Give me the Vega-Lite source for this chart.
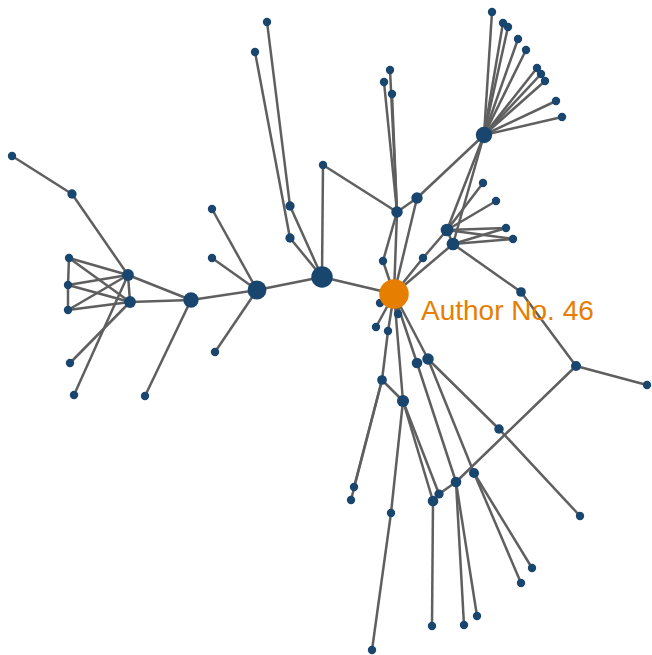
{
  "$schema": "https://vega.github.io/schema/vega-lite/v6.json",
  "width": 652,
  "height": 655,
  "autosize": {"type": "fit", "contains": "padding"},
  "padding": 0,
  "background": "white",
  "config": {"view": {"stroke": null}},
  "datasets": {
    "nodes": [
      {"id":"a1","x":12,"y":156,"c":0,"role":"other"},
      {"id":"a2","x":72,"y":194,"c":0.02,"role":"other"},
      {"id":"k1","x":69,"y":258,"c":0,"role":"other"},
      {"id":"k2","x":68,"y":285,"c":0,"role":"other"},
      {"id":"k3","x":68,"y":310,"c":0,"role":"other"},
      {"id":"h1","x":128,"y":275,"c":0.087,"role":"other"},
      {"id":"h2","x":130,"y":302,"c":0.087,"role":"other"},
      {"id":"l1","x":70,"y":363,"c":0,"role":"other"},
      {"id":"l2","x":74,"y":395,"c":0,"role":"other"},
      {"id":"b","x":191,"y":300,"c":0.206,"role":"other"},
      {"id":"l3","x":145,"y":396,"c":0,"role":"other"},
      {"id":"c","x":257,"y":290,"c":0.357,"role":"other"},
      {"id":"c1","x":212,"y":209,"c":0,"role":"other"},
      {"id":"c2","x":212,"y":258,"c":0,"role":"other"},
      {"id":"c3","x":215,"y":352,"c":0,"role":"other"},
      {"id":"d","x":322,"y":277,"c":0.49,"role":"other"},
      {"id":"d1","x":290,"y":206,"c":0.02,"role":"other"},
      {"id":"d2","x":290,"y":238,"c":0.02,"role":"other"},
      {"id":"d3","x":323,"y":165,"c":0,"role":"other"},
      {"id":"t1","x":267,"y":22,"c":0,"role":"other"},
      {"id":"t2","x":255,"y":52,"c":0,"role":"other"},
      {"id":"e","x":397,"y":212,"c":0.077,"role":"other"},
      {"id":"e1","x":390,"y":70,"c":0,"role":"other"},
      {"id":"e2","x":384,"y":82,"c":0,"role":"other"},
      {"id":"e3","x":392,"y":94,"c":0,"role":"other"},
      {"id":"f","x":417,"y":198,"c":0.074,"role":"other"},
      {"id":"g","x":484,"y":135,"c":0.25,"role":"other"},
      {"id":"g1","x":492,"y":12,"c":0,"role":"other"},
      {"id":"g2","x":503,"y":23,"c":0,"role":"other"},
      {"id":"g3","x":508,"y":27,"c":0,"role":"other"},
      {"id":"g4","x":518,"y":39,"c":0,"role":"other"},
      {"id":"g5","x":526,"y":50,"c":0,"role":"other"},
      {"id":"g6","x":537,"y":68,"c":0,"role":"other"},
      {"id":"g7","x":541,"y":74,"c":0,"role":"other"},
      {"id":"g8","x":545,"y":81,"c":0,"role":"other"},
      {"id":"g9","x":556,"y":101,"c":0,"role":"other"},
      {"id":"g10","x":562,"y":117,"c":0,"role":"other"},
      {"id":"i1","x":447,"y":230,"c":0.114,"role":"other"},
      {"id":"i2","x":453,"y":244,"c":0.114,"role":"other"},
      {"id":"i3","x":483,"y":183,"c":0,"role":"other"},
      {"id":"i4","x":496,"y":201,"c":0,"role":"other"},
      {"id":"i5","x":506,"y":228,"c":0,"role":"other"},
      {"id":"i6","x":513,"y":239,"c":0,"role":"other"},
      {"id":"s1","x":383,"y":261,"c":0,"role":"other"},
      {"id":"s2","x":423,"y":258,"c":0,"role":"other"},
      {"id":"p1","x":521,"y":292,"c":0.03,"role":"other"},
      {"id":"p2","x":576,"y":366,"c":0.04,"role":"other"},
      {"id":"p3","x":647,"y":385,"c":0,"role":"other"},
      {"id":"o1","x":380,"y":303,"c":0,"role":"other"},
      {"id":"o2","x":376,"y":327,"c":0,"role":"other"},
      {"id":"o3","x":388,"y":331,"c":0,"role":"other"},
      {"id":"o4","x":398,"y":314,"c":0,"role":"other"},
      {"id":"m1","x":417,"y":363,"c":0.053,"role":"other"},
      {"id":"m2","x":428,"y":359,"c":0.077,"role":"other"},
      {"id":"q","x":382,"y":380,"c":0.03,"role":"other"},
      {"id":"r","x":403,"y":401,"c":0.097,"role":"other"},
      {"id":"q1","x":354,"y":487,"c":0,"role":"other"},
      {"id":"q2","x":351,"y":500,"c":0,"role":"other"},
      {"id":"r1","x":391,"y":513,"c":0,"role":"other"},
      {"id":"r2","x":372,"y":650,"c":0,"role":"other"},
      {"id":"r3","x":433,"y":501,"c":0.053,"role":"other"},
      {"id":"r4","x":439,"y":494,"c":0.019,"role":"other"},
      {"id":"r5","x":432,"y":626,"c":0,"role":"other"},
      {"id":"u","x":456,"y":482,"c":0.053,"role":"other"},
      {"id":"u1","x":464,"y":625,"c":0,"role":"other"},
      {"id":"u2","x":477,"y":616,"c":0,"role":"other"},
      {"id":"v","x":474,"y":473,"c":0.04,"role":"other"},
      {"id":"v1","x":532,"y":568,"c":0,"role":"other"},
      {"id":"v2","x":521,"y":583,"c":0,"role":"other"},
      {"id":"w","x":499,"y":429,"c":0.025,"role":"other"},
      {"id":"w1","x":580,"y":516,"c":0,"role":"other"},
      {"id":"n46","x":394,"y":294,"c":1,"role":"focus","label":"Author No. 46"}
    ],
    "edges": [
      {"s":"n46","t":"d"},{"s":"n46","t":"e"},{"s":"n46","t":"s1"},{"s":"s1","t":"e"},
      {"s":"n46","t":"f"},{"s":"n46","t":"s2"},{"s":"s2","t":"i1"},{"s":"n46","t":"i2"},
      {"s":"n46","t":"o1"},{"s":"n46","t":"o2"},{"s":"n46","t":"o3"},{"s":"o3","t":"q"},
      {"s":"n46","t":"o4"},{"s":"n46","t":"r"},{"s":"n46","t":"m1"},{"s":"n46","t":"m2"},
      {"s":"e","t":"e1"},{"s":"e","t":"e2"},{"s":"e","t":"e3"},{"s":"e","t":"f"},{"s":"e","t":"d3"},
      {"s":"d3","t":"d"},{"s":"d","t":"d1"},{"s":"d","t":"d2"},{"s":"d1","t":"t1"},{"s":"d2","t":"t2"},
      {"s":"d","t":"c"},{"s":"c","t":"c1"},{"s":"c","t":"c2"},{"s":"c","t":"c3"},{"s":"c","t":"b"},
      {"s":"b","t":"l3"},{"s":"b","t":"h1"},{"s":"b","t":"h2"},{"s":"h1","t":"a2"},{"s":"a2","t":"a1"},
      {"s":"h1","t":"l2"},{"s":"h2","t":"l1"},{"s":"k1","t":"k2"},{"s":"k2","t":"k3"},
      {"s":"k1","t":"h1"},{"s":"k1","t":"h2"},{"s":"k2","t":"h1"},{"s":"k2","t":"h2"},
      {"s":"k3","t":"h1"},{"s":"k3","t":"h2"},{"s":"h1","t":"h2"},
      {"s":"f","t":"g"},{"s":"g","t":"g1"},{"s":"g","t":"g2"},{"s":"g","t":"g3"},{"s":"g","t":"g4"},
      {"s":"g","t":"g5"},{"s":"g","t":"g6"},{"s":"g","t":"g7"},{"s":"g","t":"g8"},{"s":"g","t":"g9"},
      {"s":"g","t":"g10"},{"s":"g","t":"i1"},{"s":"g","t":"i2"},
      {"s":"i1","t":"i3"},{"s":"i1","t":"i4"},{"s":"i1","t":"i2"},{"s":"i1","t":"i5"},{"s":"i1","t":"i6"},
      {"s":"i2","t":"i5"},{"s":"i2","t":"i6"},{"s":"i2","t":"p1"},{"s":"p1","t":"p2"},{"s":"p2","t":"p3"},
      {"s":"p2","t":"u"},
      {"s":"q","t":"r"},{"s":"q","t":"q1"},{"s":"q","t":"q2"},{"s":"r","t":"r1"},{"s":"r1","t":"r2"},
      {"s":"r","t":"r3"},{"s":"r","t":"r4"},{"s":"r3","t":"r5"},{"s":"u","t":"r4"},{"s":"u","t":"u1"},
      {"s":"u","t":"u2"},{"s":"m1","t":"u"},{"s":"m2","t":"v"},{"s":"m2","t":"w"},{"s":"w","t":"w1"},
      {"s":"v","t":"v1"},{"s":"v","t":"v2"}
    ]
  },
  "layer": [
    {
      "data": {"name": "edges"},
      "transform": [
        {"lookup": "s", "from": {"data": {"name": "nodes"}, "key": "id", "fields": ["x", "y"]}, "as": ["sx", "sy"]},
        {"lookup": "t", "from": {"data": {"name": "nodes"}, "key": "id", "fields": ["x", "y"]}, "as": ["tx", "ty"]}
      ],
      "mark": {"type": "rule", "color": "#5f5f5f", "strokeWidth": 2.5},
      "encoding": {
        "x": {"field": "sx", "type": "quantitative", "scale": {"domain": [0, 652], "nice": false, "zero": false}, "axis": null},
        "y": {"field": "sy", "type": "quantitative", "scale": {"domain": [0, 655], "nice": false, "zero": false, "reverse": true}, "axis": null},
        "x2": {"field": "tx"},
        "y2": {"field": "ty"}
      }
    },
    {
      "data": {"name": "nodes"},
      "mark": {"type": "circle", "opacity": 1},
      "encoding": {
        "x": {"field": "x", "type": "quantitative", "scale": {"domain": [0, 652], "nice": false, "zero": false}, "axis": null},
        "y": {"field": "y", "type": "quantitative", "scale": {"domain": [0, 655], "nice": false, "zero": false, "reverse": true}, "axis": null},
        "size": {"field": "c", "type": "quantitative", "scale": {"type": "linear", "domain": [0, 1], "range": [70, 870], "zero": false}, "legend": null},
        "color": {"field": "role", "type": "nominal", "scale": {"domain": ["other", "focus"], "range": ["#18466f", "#e67e00"]}, "legend": null}
      }
    },
    {
      "data": {"name": "nodes"},
      "transform": [{"filter": "datum.role === 'focus'"}],
      "mark": {"type": "text", "align": "left", "baseline": "alphabetic", "dx": 27, "dy": 26, "fontSize": 28, "font": "Liberation Sans", "color": "#e67e00"},
      "encoding": {
        "x": {"field": "x", "type": "quantitative", "scale": {"domain": [0, 652], "nice": false, "zero": false}, "axis": null},
        "y": {"field": "y", "type": "quantitative", "scale": {"domain": [0, 655], "nice": false, "zero": false, "reverse": true}, "axis": null},
        "text": {"field": "label"}
      }
    }
  ]
}
